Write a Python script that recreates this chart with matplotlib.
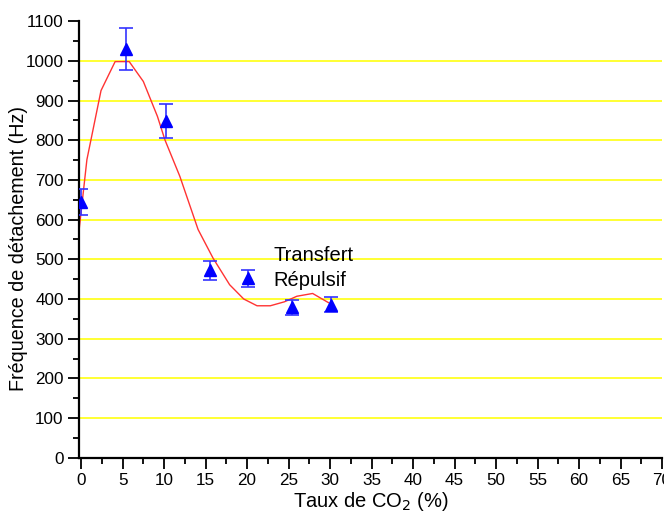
import numpy as np
import matplotlib
matplotlib.use("Agg")
import matplotlib.pyplot as plt
from matplotlib.ticker import MultipleLocator

plt.rcParams['font.family'] = ['Liberation Sans', 'DejaVu Sans']

# measured points (CO2 %, frequency Hz, error)
co2 = [0.0, 5.4, 10.2, 15.5, 20.1, 25.4, 30.1]
freq = [644, 1030, 848, 472, 452, 379, 386]
err = [32, 52, 42, 23, 22, 19, 18]

# fitted curve
fit_x = [-0.25, 0.7, 2.4, 4.1, 5.8, 7.5, 9.2, 10.1, 11.9, 14.1, 15.9, 17.9,
         19.6, 21.2, 22.8, 24.5, 26.0, 27.9, 29.8]
fit_y = [572, 751, 925, 998, 998, 948, 860, 801, 709, 575, 503, 436,
         400, 383, 383, 393, 407, 414, 391]

fig = plt.figure(figsize=(6.64, 5.15), dpi=100)
ax = fig.add_axes([0.119, 0.111, 0.878, 0.848])

for v in range(100, 1100, 100):
    ax.axhline(v, color='#ffff33', lw=1.4, zorder=0)

ax.plot(fit_x, fit_y, color='#ff3333', lw=1.0, zorder=2)
ax.errorbar(co2, freq, yerr=err, fmt='^', color='#0000ff', ms=8,
            ecolor='#3333ff', elinewidth=1.2, capsize=5, capthick=1.2, zorder=3)

ax.text(23.2, 510, 'Transfert', fontsize=14.5, va='center')
ax.text(23.2, 447, 'Répulsif', fontsize=14.5, va='center')

ax.set_xlim(-0.25, 70)
ax.set_ylim(0, 1100)
ax.xaxis.set_major_locator(MultipleLocator(5))
ax.xaxis.set_minor_locator(MultipleLocator(2.5))
ax.yaxis.set_major_locator(MultipleLocator(100))
ax.yaxis.set_minor_locator(MultipleLocator(50))
ax.tick_params(which='major', length=8, width=1.3, labelsize=12.3,
               direction='out', pad=3)
ax.tick_params(which='minor', length=4.5, width=1.3, direction='out')

for s in ['top', 'right']:
    ax.spines[s].set_visible(False)
for s in ['left', 'bottom']:
    ax.spines[s].set_linewidth(1.6)

ax.set_xlabel('Taux de CO$_2$ (%)', fontsize=14.5, labelpad=1)
ax.set_ylabel('Fréquence de détachement (Hz)', fontsize=14.2, labelpad=3)
ax.yaxis.set_label_coords(-0.087, 0.48)

fig.savefig('out.png', dpi=100)
